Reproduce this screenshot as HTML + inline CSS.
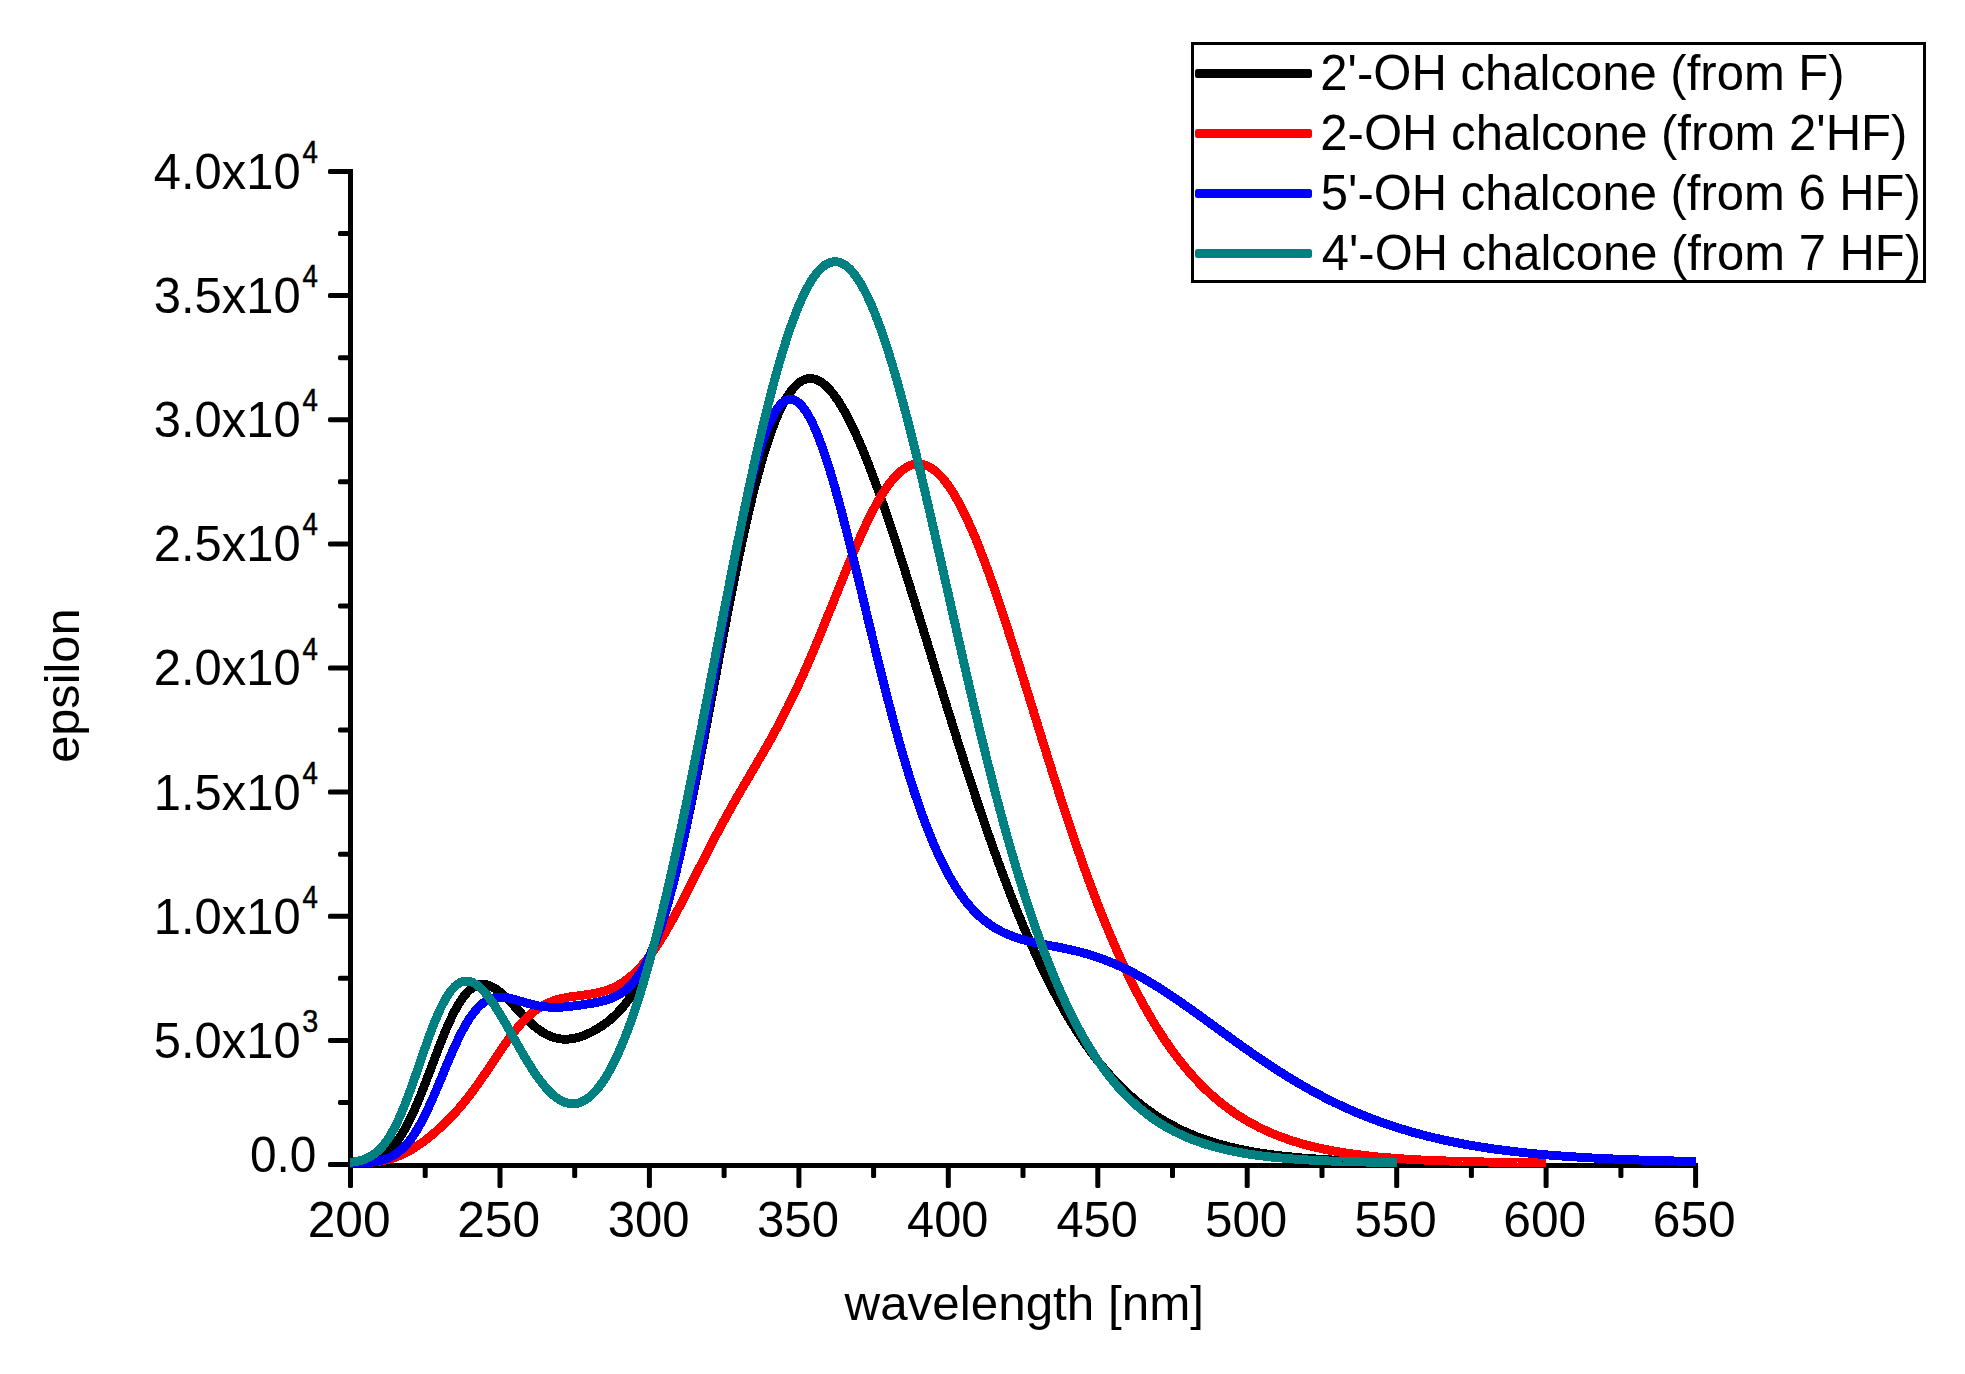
<!DOCTYPE html>
<html lang="en"><head><meta charset="utf-8"><title>UV-Vis spectra of chalcones</title>
<style>html,body{margin:0;padding:0;background:#fff}body{width:1965px;height:1374px;overflow:hidden}svg{display:block}text{font-family:"Liberation Sans",Arial,Helvetica,sans-serif;fill:#000}</style></head><body>
<svg width="1965" height="1374" viewBox="0 0 1965 1374">
<rect width="1965" height="1374" fill="#fff"/>
<g fill="#000" shape-rendering="crispEdges">
<rect x="348" y="169" width="5" height="1017"/>
<rect x="348" y="1163" width="1350" height="5"/>
</g>
<g fill="#000">
<rect x="348.0" y="1165" width="5" height="23" rx="1.6"/>
<rect x="422.7" y="1165" width="5" height="13" rx="1.6"/>
<rect x="497.5" y="1165" width="5" height="23" rx="1.6"/>
<rect x="572.2" y="1165" width="5" height="13" rx="1.6"/>
<rect x="646.9" y="1165" width="5" height="23" rx="1.6"/>
<rect x="721.6" y="1165" width="5" height="13" rx="1.6"/>
<rect x="796.4" y="1165" width="5" height="23" rx="1.6"/>
<rect x="871.1" y="1165" width="5" height="13" rx="1.6"/>
<rect x="945.8" y="1165" width="5" height="23" rx="1.6"/>
<rect x="1020.5" y="1165" width="5" height="13" rx="1.6"/>
<rect x="1095.3" y="1165" width="5" height="23" rx="1.6"/>
<rect x="1170.0" y="1165" width="5" height="13" rx="1.6"/>
<rect x="1244.7" y="1165" width="5" height="23" rx="1.6"/>
<rect x="1319.5" y="1165" width="5" height="13" rx="1.6"/>
<rect x="1394.2" y="1165" width="5" height="23" rx="1.6"/>
<rect x="1468.9" y="1165" width="5" height="13" rx="1.6"/>
<rect x="1543.6" y="1165" width="5" height="23" rx="1.6"/>
<rect x="1618.4" y="1165" width="5" height="13" rx="1.6"/>
<rect x="1693.1" y="1165" width="5" height="23" rx="1.6"/>
<rect x="328" y="1162.0" width="23" height="5" rx="1.6"/>
<rect x="338" y="1099.9" width="13" height="5" rx="1.6"/>
<rect x="328" y="1037.9" width="23" height="5" rx="1.6"/>
<rect x="338" y="975.8" width="13" height="5" rx="1.6"/>
<rect x="328" y="913.8" width="23" height="5" rx="1.6"/>
<rect x="338" y="851.7" width="13" height="5" rx="1.6"/>
<rect x="328" y="789.6" width="23" height="5" rx="1.6"/>
<rect x="338" y="727.6" width="13" height="5" rx="1.6"/>
<rect x="328" y="665.5" width="23" height="5" rx="1.6"/>
<rect x="338" y="603.4" width="13" height="5" rx="1.6"/>
<rect x="328" y="541.4" width="23" height="5" rx="1.6"/>
<rect x="338" y="479.3" width="13" height="5" rx="1.6"/>
<rect x="328" y="417.2" width="23" height="5" rx="1.6"/>
<rect x="338" y="355.2" width="13" height="5" rx="1.6"/>
<rect x="328" y="293.1" width="23" height="5" rx="1.6"/>
<rect x="338" y="231.1" width="13" height="5" rx="1.6"/>
<rect x="328" y="169.0" width="23" height="5" rx="1.6"/>
</g>
<g fill="none" stroke-width="8.9" stroke-linejoin="round" stroke-linecap="butt" shape-rendering="crispEdges">
<path stroke="#000000" d="M350.0 1162.9 L352.5 1162.8 L355.0 1162.6 L357.5 1162.4 L360.0 1162.2 L362.5 1161.9 L365.0 1161.5 L367.5 1161.0 L370.0 1160.4 L372.5 1159.7 L375.0 1158.8 L377.5 1157.8 L380.0 1156.5 L382.5 1155.1 L385.0 1153.4 L387.5 1151.4 L390.0 1149.2 L392.5 1146.6 L395.0 1143.7 L397.5 1140.5 L400.0 1137.0 L402.5 1133.1 L405.0 1128.9 L407.5 1124.3 L410.0 1119.4 L412.5 1114.2 L415.0 1108.6 L417.5 1102.8 L420.0 1096.8 L422.5 1090.5 L425.0 1084.1 L427.5 1077.5 L430.0 1070.9 L432.5 1064.2 L435.0 1057.6 L437.5 1051.0 L440.0 1044.5 L442.5 1038.2 L445.0 1032.1 L447.5 1026.2 L450.0 1020.7 L452.5 1015.4 L455.0 1010.5 L457.5 1006.0 L460.0 1001.9 L462.5 998.2 L465.0 994.9 L467.5 992.1 L470.0 989.7 L472.5 987.8 L475.0 986.3 L477.5 985.2 L480.0 984.6 L482.5 984.4 L485.0 984.5 L487.5 985.0 L490.0 985.9 L492.5 987.0 L495.0 988.5 L497.5 990.2 L500.0 992.1 L502.5 994.3 L505.0 996.5 L507.5 999.0 L510.0 1001.5 L512.5 1004.1 L515.0 1006.8 L517.5 1009.5 L520.0 1012.1 L522.5 1014.8 L525.0 1017.4 L527.5 1019.8 L530.0 1022.2 L532.5 1024.5 L535.0 1026.7 L537.5 1028.7 L540.0 1030.5 L542.5 1032.2 L545.0 1033.7 L547.5 1035.0 L550.0 1036.1 L552.5 1037.1 L555.0 1037.8 L557.5 1038.4 L560.0 1038.9 L562.5 1039.1 L565.0 1039.2 L567.5 1039.2 L570.0 1038.9 L572.5 1038.6 L575.0 1038.1 L577.5 1037.5 L580.0 1036.8 L582.5 1035.9 L585.0 1035.0 L587.5 1033.9 L590.0 1032.8 L592.5 1031.5 L595.0 1030.2 L597.5 1028.7 L600.0 1027.2 L602.5 1025.5 L605.0 1023.8 L607.5 1021.9 L610.0 1019.9 L612.5 1017.7 L615.0 1015.4 L617.5 1012.9 L620.0 1010.2 L622.5 1007.4 L625.0 1004.3 L627.5 1001.0 L630.0 997.5 L632.5 993.7 L635.0 989.6 L637.5 985.2 L640.0 980.5 L642.5 975.5 L645.0 970.1 L647.5 964.4 L650.0 958.4 L652.5 951.9 L655.0 945.1 L657.5 937.9 L660.0 930.3 L662.5 922.3 L665.0 913.9 L667.5 905.1 L670.0 895.9 L672.5 886.3 L675.0 876.4 L677.5 866.1 L680.0 855.4 L682.5 844.4 L685.0 833.0 L687.5 821.4 L690.0 809.5 L692.5 797.3 L695.0 784.8 L697.5 772.2 L700.0 759.4 L702.5 746.3 L705.0 733.2 L707.5 720.0 L710.0 706.6 L712.5 693.3 L715.0 679.9 L717.5 666.5 L720.0 653.1 L722.5 639.9 L725.0 626.7 L727.5 613.7 L730.0 600.8 L732.5 588.1 L735.0 575.6 L737.5 563.4 L740.0 551.4 L742.5 539.7 L745.0 528.3 L747.5 517.2 L750.0 506.5 L752.5 496.2 L755.0 486.2 L757.5 476.6 L760.0 467.5 L762.5 458.7 L765.0 450.4 L767.5 442.6 L770.0 435.1 L772.5 428.2 L775.0 421.7 L777.5 415.6 L780.0 410.0 L782.5 404.9 L785.0 400.3 L787.5 396.1 L790.0 392.4 L792.5 389.1 L795.0 386.3 L797.5 383.9 L800.0 382.0 L802.5 380.5 L805.0 379.4 L807.5 378.7 L810.0 378.5 L812.5 378.7 L815.0 379.2 L817.5 380.1 L820.0 381.4 L822.5 383.1 L825.0 385.1 L827.5 387.4 L830.0 390.1 L832.5 393.0 L835.0 396.3 L837.5 399.9 L840.0 403.7 L842.5 407.9 L845.0 412.3 L847.5 416.9 L850.0 421.8 L852.5 426.9 L855.0 432.2 L857.5 437.7 L860.0 443.5 L862.5 449.4 L865.0 455.5 L867.5 461.8 L870.0 468.2 L872.5 474.8 L875.0 481.5 L877.5 488.4 L880.0 495.4 L882.5 502.5 L885.0 509.8 L887.5 517.1 L890.0 524.5 L892.5 532.1 L895.0 539.7 L897.5 547.4 L900.0 555.1 L902.5 563.0 L905.0 570.9 L907.5 578.8 L910.0 586.8 L912.5 594.8 L915.0 602.9 L917.5 611.0 L920.0 619.1 L922.5 627.2 L925.0 635.4 L927.5 643.5 L930.0 651.7 L932.5 659.9 L935.0 668.1 L937.5 676.2 L940.0 684.4 L942.5 692.5 L945.0 700.6 L947.5 708.7 L950.0 716.7 L952.5 724.8 L955.0 732.7 L957.5 740.7 L960.0 748.6 L962.5 756.4 L965.0 764.2 L967.5 772.0 L970.0 779.7 L972.5 787.3 L975.0 794.9 L977.5 802.4 L980.0 809.9 L982.5 817.2 L985.0 824.5 L987.5 831.8 L990.0 838.9 L992.5 846.0 L995.0 853.0 L997.5 859.9 L1000.0 866.7 L1002.5 873.5 L1005.0 880.1 L1007.5 886.7 L1010.0 893.2 L1012.5 899.6 L1015.0 905.9 L1017.5 912.1 L1020.0 918.2 L1022.5 924.2 L1025.0 930.1 L1027.5 935.9 L1030.0 941.7 L1032.5 947.3 L1035.0 952.8 L1037.5 958.3 L1040.0 963.6 L1042.5 968.8 L1045.0 974.0 L1047.5 979.0 L1050.0 984.0 L1052.5 988.8 L1055.0 993.6 L1057.5 998.3 L1060.0 1002.8 L1062.5 1007.3 L1065.0 1011.7 L1067.5 1016.0 L1070.0 1020.1 L1072.5 1024.2 L1075.0 1028.2 L1077.5 1032.2 L1080.0 1036.0 L1082.5 1039.7 L1085.0 1043.4 L1087.5 1046.9 L1090.0 1050.4 L1092.5 1053.8 L1095.0 1057.1 L1097.5 1060.4 L1100.0 1063.5 L1102.5 1066.6 L1105.0 1069.6 L1107.5 1072.5 L1110.0 1075.3 L1112.5 1078.1 L1115.0 1080.8 L1117.5 1083.4 L1120.0 1085.9 L1122.5 1088.4 L1125.0 1090.8 L1127.5 1093.2 L1130.0 1095.4 L1132.5 1097.7 L1135.0 1099.8 L1137.5 1101.9 L1140.0 1103.9 L1142.5 1105.9 L1145.0 1107.8 L1147.5 1109.7 L1150.0 1111.5 L1152.5 1113.2 L1155.0 1114.9 L1157.5 1116.6 L1160.0 1118.2 L1162.5 1119.7 L1165.0 1121.2 L1167.5 1122.7 L1170.0 1124.1 L1172.5 1125.4 L1175.0 1126.7 L1177.5 1128.0 L1180.0 1129.3 L1182.5 1130.5 L1185.0 1131.6 L1187.5 1132.7 L1190.0 1133.8 L1192.5 1134.9 L1195.0 1135.9 L1197.5 1136.9 L1200.0 1137.8 L1202.5 1138.7 L1205.0 1139.6 L1207.5 1140.5 L1210.0 1141.3 L1212.5 1142.1 L1215.0 1142.9 L1217.5 1143.6 L1220.0 1144.3 L1222.5 1145.0 L1225.0 1145.7 L1227.5 1146.4 L1230.0 1147.0 L1232.5 1147.6 L1235.0 1148.2 L1237.5 1148.7 L1240.0 1149.3 L1242.5 1149.8 L1245.0 1150.3 L1247.5 1150.8 L1250.0 1151.3 L1252.5 1151.7 L1255.0 1152.1 L1257.5 1152.6 L1260.0 1153.0 L1262.5 1153.4 L1265.0 1153.7 L1267.5 1154.1 L1270.0 1154.5 L1272.5 1154.8 L1275.0 1155.1 L1277.5 1155.4 L1280.0 1155.7 L1282.5 1156.0 L1285.0 1156.3 L1287.5 1156.6 L1290.0 1156.8 L1292.5 1157.1 L1295.0 1157.3 L1297.5 1157.5 L1300.0 1157.8 L1302.5 1158.0 L1305.0 1158.2 L1307.5 1158.4 L1310.0 1158.6 L1312.5 1158.7 L1315.0 1158.9 L1317.5 1159.1 L1320.0 1159.3 L1322.5 1159.4 L1325.0 1159.6 L1327.5 1159.7 L1330.0 1159.8 L1332.5 1160.0 L1335.0 1160.1 L1337.5 1160.2 L1340.0 1160.3 L1342.5 1160.5 L1345.0 1160.6 L1347.5 1160.7 L1350.0 1160.8 L1352.5 1160.9 L1355.0 1161.0 L1357.5 1161.1 L1360.0 1161.1 L1362.5 1161.2 L1365.0 1161.3 L1367.5 1161.4 L1370.0 1161.5 L1372.5 1161.5 L1375.0 1161.6 L1377.5 1161.7 L1380.0 1161.7 L1382.5 1161.8 L1385.0 1161.8 L1387.5 1161.9 L1390.0 1161.9 L1392.5 1162.0 L1395.0 1162.0 L1396.5 1162.1"/>
<path stroke="#ff0000" d="M350.0 1163.1 L352.5 1163.1 L355.0 1163.0 L357.5 1162.9 L360.0 1162.9 L362.5 1162.8 L365.0 1162.6 L367.5 1162.5 L370.0 1162.3 L372.5 1162.1 L375.0 1161.8 L377.5 1161.5 L380.0 1161.1 L382.5 1160.7 L385.0 1160.2 L387.5 1159.6 L390.0 1158.9 L392.5 1158.2 L395.0 1157.4 L397.5 1156.4 L400.0 1155.4 L402.5 1154.3 L405.0 1153.2 L407.5 1151.9 L410.0 1150.5 L412.5 1149.0 L415.0 1147.5 L417.5 1145.8 L420.0 1144.1 L422.5 1142.3 L425.0 1140.5 L427.5 1138.5 L430.0 1136.5 L432.5 1134.5 L435.0 1132.3 L437.5 1130.1 L440.0 1127.9 L442.5 1125.6 L445.0 1123.2 L447.5 1120.7 L450.0 1118.2 L452.5 1115.6 L455.0 1112.9 L457.5 1110.1 L460.0 1107.2 L462.5 1104.3 L465.0 1101.2 L467.5 1098.1 L470.0 1094.9 L472.5 1091.5 L475.0 1088.1 L477.5 1084.6 L480.0 1081.1 L482.5 1077.5 L485.0 1073.8 L487.5 1070.1 L490.0 1066.3 L492.5 1062.6 L495.0 1058.8 L497.5 1055.1 L500.0 1051.4 L502.5 1047.7 L505.0 1044.2 L507.5 1040.7 L510.0 1037.2 L512.5 1033.9 L515.0 1030.8 L517.5 1027.7 L520.0 1024.8 L522.5 1022.1 L525.0 1019.5 L527.5 1017.0 L530.0 1014.8 L532.5 1012.7 L535.0 1010.7 L537.5 1008.9 L540.0 1007.3 L542.5 1005.8 L545.0 1004.4 L547.5 1003.2 L550.0 1002.1 L552.5 1001.2 L555.0 1000.3 L557.5 999.5 L560.0 998.9 L562.5 998.3 L565.0 997.8 L567.5 997.3 L570.0 996.9 L572.5 996.5 L575.0 996.2 L577.5 995.9 L580.0 995.6 L582.5 995.2 L585.0 994.9 L587.5 994.6 L590.0 994.2 L592.5 993.8 L595.0 993.3 L597.5 992.8 L600.0 992.2 L602.5 991.6 L605.0 990.8 L607.5 990.0 L610.0 989.0 L612.5 988.0 L615.0 986.8 L617.5 985.6 L620.0 984.1 L622.5 982.6 L625.0 980.9 L627.5 979.1 L630.0 977.1 L632.5 974.9 L635.0 972.6 L637.5 970.2 L640.0 967.5 L642.5 964.8 L645.0 961.8 L647.5 958.7 L650.0 955.4 L652.5 952.0 L655.0 948.4 L657.5 944.7 L660.0 940.8 L662.5 936.8 L665.0 932.7 L667.5 928.4 L670.0 924.0 L672.5 919.6 L675.0 915.0 L677.5 910.4 L680.0 905.7 L682.5 900.9 L685.0 896.0 L687.5 891.2 L690.0 886.3 L692.5 881.3 L695.0 876.4 L697.5 871.4 L700.0 866.5 L702.5 861.6 L705.0 856.6 L707.5 851.8 L710.0 846.9 L712.5 842.1 L715.0 837.3 L717.5 832.6 L720.0 827.9 L722.5 823.3 L725.0 818.7 L727.5 814.2 L730.0 809.7 L732.5 805.2 L735.0 800.8 L737.5 796.4 L740.0 792.1 L742.5 787.8 L745.0 783.5 L747.5 779.3 L750.0 775.0 L752.5 770.8 L755.0 766.5 L757.5 762.2 L760.0 757.9 L762.5 753.6 L765.0 749.3 L767.5 744.9 L770.0 740.5 L772.5 736.0 L775.0 731.4 L777.5 726.8 L780.0 722.1 L782.5 717.3 L785.0 712.4 L787.5 707.5 L790.0 702.4 L792.5 697.3 L795.0 692.1 L797.5 686.8 L800.0 681.4 L802.5 675.9 L805.0 670.3 L807.5 664.6 L810.0 658.8 L812.5 653.0 L815.0 647.0 L817.5 641.0 L820.0 635.0 L822.5 628.9 L825.0 622.7 L827.5 616.5 L830.0 610.3 L832.5 604.1 L835.0 597.8 L837.5 591.6 L840.0 585.3 L842.5 579.1 L845.0 573.0 L847.5 566.9 L850.0 560.8 L852.5 554.8 L855.0 548.9 L857.5 543.2 L860.0 537.5 L862.5 532.0 L865.0 526.6 L867.5 521.3 L870.0 516.2 L872.5 511.3 L875.0 506.6 L877.5 502.1 L880.0 497.8 L882.5 493.7 L885.0 489.8 L887.5 486.2 L890.0 482.8 L892.5 479.7 L895.0 476.9 L897.5 474.3 L900.0 472.0 L902.5 470.0 L905.0 468.2 L907.5 466.8 L910.0 465.6 L912.5 464.8 L915.0 464.2 L917.5 464.0 L920.0 464.0 L922.5 464.4 L925.0 465.1 L927.5 466.0 L930.0 467.3 L932.5 468.9 L935.0 470.7 L937.5 472.9 L940.0 475.4 L942.5 478.1 L945.0 481.1 L947.5 484.4 L950.0 488.0 L952.5 491.8 L955.0 495.9 L957.5 500.3 L960.0 504.9 L962.5 509.7 L965.0 514.8 L967.5 520.1 L970.0 525.6 L972.5 531.3 L975.0 537.2 L977.5 543.4 L980.0 549.6 L982.5 556.1 L985.0 562.7 L987.5 569.5 L990.0 576.5 L992.5 583.5 L995.0 590.7 L997.5 598.0 L1000.0 605.5 L1002.5 613.0 L1005.0 620.6 L1007.5 628.3 L1010.0 636.1 L1012.5 644.0 L1015.0 651.9 L1017.5 659.8 L1020.0 667.8 L1022.5 675.9 L1025.0 684.0 L1027.5 692.0 L1030.0 700.2 L1032.5 708.3 L1035.0 716.4 L1037.5 724.5 L1040.0 732.6 L1042.5 740.6 L1045.0 748.7 L1047.5 756.7 L1050.0 764.7 L1052.5 772.6 L1055.0 780.5 L1057.5 788.3 L1060.0 796.1 L1062.5 803.8 L1065.0 811.4 L1067.5 819.0 L1070.0 826.5 L1072.5 834.0 L1075.0 841.3 L1077.5 848.6 L1080.0 855.8 L1082.5 862.9 L1085.0 869.9 L1087.5 876.8 L1090.0 883.6 L1092.5 890.3 L1095.0 896.9 L1097.5 903.5 L1100.0 909.9 L1102.5 916.2 L1105.0 922.4 L1107.5 928.5 L1110.0 934.5 L1112.5 940.4 L1115.0 946.2 L1117.5 951.9 L1120.0 957.5 L1122.5 963.0 L1125.0 968.3 L1127.5 973.6 L1130.0 978.8 L1132.5 983.8 L1135.0 988.8 L1137.5 993.6 L1140.0 998.4 L1142.5 1003.0 L1145.0 1007.5 L1147.5 1012.0 L1150.0 1016.3 L1152.5 1020.5 L1155.0 1024.7 L1157.5 1028.7 L1160.0 1032.7 L1162.5 1036.5 L1165.0 1040.3 L1167.5 1043.9 L1170.0 1047.5 L1172.5 1051.0 L1175.0 1054.4 L1177.5 1057.7 L1180.0 1060.9 L1182.5 1064.0 L1185.0 1067.1 L1187.5 1070.1 L1190.0 1073.0 L1192.5 1075.8 L1195.0 1078.5 L1197.5 1081.2 L1200.0 1083.8 L1202.5 1086.3 L1205.0 1088.8 L1207.5 1091.2 L1210.0 1093.5 L1212.5 1095.7 L1215.0 1097.9 L1217.5 1100.0 L1220.0 1102.1 L1222.5 1104.1 L1225.0 1106.0 L1227.5 1107.9 L1230.0 1109.8 L1232.5 1111.5 L1235.0 1113.2 L1237.5 1114.9 L1240.0 1116.5 L1242.5 1118.1 L1245.0 1119.6 L1247.5 1121.1 L1250.0 1122.5 L1252.5 1123.9 L1255.0 1125.2 L1257.5 1126.5 L1260.0 1127.8 L1262.5 1129.0 L1265.0 1130.2 L1267.5 1131.3 L1270.0 1132.4 L1272.5 1133.5 L1275.0 1134.5 L1277.5 1135.5 L1280.0 1136.5 L1282.5 1137.4 L1285.0 1138.3 L1287.5 1139.2 L1290.0 1140.1 L1292.5 1140.9 L1295.0 1141.7 L1297.5 1142.4 L1300.0 1143.2 L1302.5 1143.9 L1305.0 1144.6 L1307.5 1145.2 L1310.0 1145.9 L1312.5 1146.5 L1315.0 1147.1 L1317.5 1147.7 L1320.0 1148.2 L1322.5 1148.8 L1325.0 1149.3 L1327.5 1149.8 L1330.0 1150.3 L1332.5 1150.7 L1335.0 1151.2 L1337.5 1151.6 L1340.0 1152.1 L1342.5 1152.5 L1345.0 1152.9 L1347.5 1153.2 L1350.0 1153.6 L1352.5 1154.0 L1355.0 1154.3 L1357.5 1154.6 L1360.0 1154.9 L1362.5 1155.2 L1365.0 1155.5 L1367.5 1155.8 L1370.0 1156.1 L1372.5 1156.4 L1375.0 1156.6 L1377.5 1156.9 L1380.0 1157.1 L1382.5 1157.3 L1385.0 1157.5 L1387.5 1157.7 L1390.0 1157.9 L1392.5 1158.1 L1395.0 1158.3 L1397.5 1158.5 L1400.0 1158.7 L1402.5 1158.9 L1405.0 1159.0 L1407.5 1159.2 L1410.0 1159.3 L1412.5 1159.5 L1415.0 1159.6 L1417.5 1159.7 L1420.0 1159.9 L1422.5 1160.0 L1425.0 1160.1 L1427.5 1160.2 L1430.0 1160.4 L1432.5 1160.5 L1435.0 1160.6 L1437.5 1160.7 L1440.0 1160.8 L1442.5 1160.9 L1445.0 1160.9 L1447.5 1161.0 L1450.0 1161.1 L1452.5 1161.2 L1455.0 1161.3 L1457.5 1161.3 L1460.0 1161.4 L1462.5 1161.5 L1465.0 1161.5 L1467.5 1161.6 L1470.0 1161.7 L1472.5 1161.7 L1475.0 1161.8 L1477.5 1161.8 L1480.0 1161.9 L1482.5 1161.9 L1485.0 1162.0 L1487.5 1162.0 L1490.0 1162.1 L1492.5 1162.1 L1495.0 1162.2 L1497.5 1162.2 L1500.0 1162.2 L1502.5 1162.3 L1505.0 1162.3 L1507.5 1162.3 L1510.0 1162.4 L1512.5 1162.4 L1515.0 1162.4 L1517.5 1162.5 L1520.0 1162.5 L1522.5 1162.5 L1525.0 1162.5 L1527.5 1162.6 L1530.0 1162.6 L1532.5 1162.6 L1535.0 1162.6 L1537.5 1162.7 L1540.0 1162.7 L1542.5 1162.7 L1545.0 1162.7 L1545.8 1162.7"/>
<path stroke="#0000ff" d="M350.0 1163.1 L352.5 1163.1 L355.0 1163.0 L357.5 1163.0 L360.0 1162.9 L362.5 1162.8 L365.0 1162.7 L367.5 1162.5 L370.0 1162.3 L372.5 1162.0 L375.0 1161.7 L377.5 1161.2 L380.0 1160.7 L382.5 1160.1 L385.0 1159.3 L387.5 1158.4 L390.0 1157.3 L392.5 1156.0 L395.0 1154.5 L397.5 1152.8 L400.0 1150.8 L402.5 1148.6 L405.0 1146.1 L407.5 1143.3 L410.0 1140.2 L412.5 1136.7 L415.0 1133.0 L417.5 1128.9 L420.0 1124.6 L422.5 1119.9 L425.0 1115.0 L427.5 1109.8 L430.0 1104.4 L432.5 1098.8 L435.0 1093.1 L437.5 1087.2 L440.0 1081.2 L442.5 1075.2 L445.0 1069.1 L447.5 1063.1 L450.0 1057.3 L452.5 1051.5 L455.0 1045.9 L457.5 1040.5 L460.0 1035.4 L462.5 1030.5 L465.0 1025.9 L467.5 1021.7 L470.0 1017.7 L472.5 1014.2 L475.0 1011.0 L477.5 1008.1 L480.0 1005.6 L482.5 1003.5 L485.0 1001.7 L487.5 1000.2 L490.0 999.0 L492.5 998.2 L495.0 997.6 L497.5 997.2 L500.0 997.1 L502.5 997.2 L505.0 997.4 L507.5 997.8 L510.0 998.3 L512.5 998.9 L515.0 999.6 L517.5 1000.3 L520.0 1001.0 L522.5 1001.8 L525.0 1002.5 L527.5 1003.2 L530.0 1003.9 L532.5 1004.6 L535.0 1005.2 L537.5 1005.7 L540.0 1006.1 L542.5 1006.5 L545.0 1006.8 L547.5 1007.0 L550.0 1007.2 L552.5 1007.3 L555.0 1007.3 L557.5 1007.3 L560.0 1007.2 L562.5 1007.1 L565.0 1006.9 L567.5 1006.7 L570.0 1006.4 L572.5 1006.1 L575.0 1005.8 L577.5 1005.5 L580.0 1005.1 L582.5 1004.8 L585.0 1004.4 L587.5 1004.0 L590.0 1003.6 L592.5 1003.2 L595.0 1002.7 L597.5 1002.2 L600.0 1001.7 L602.5 1001.1 L605.0 1000.4 L607.5 999.6 L610.0 998.8 L612.5 997.8 L615.0 996.7 L617.5 995.4 L620.0 994.0 L622.5 992.3 L625.0 990.5 L627.5 988.4 L630.0 986.0 L632.5 983.3 L635.0 980.3 L637.5 977.0 L640.0 973.4 L642.5 969.3 L645.0 964.9 L647.5 960.1 L650.0 954.8 L652.5 949.1 L655.0 942.9 L657.5 936.2 L660.0 929.1 L662.5 921.5 L665.0 913.4 L667.5 904.9 L670.0 895.8 L672.5 886.3 L675.0 876.3 L677.5 865.8 L680.0 854.9 L682.5 843.5 L685.0 831.8 L687.5 819.6 L690.0 807.1 L692.5 794.2 L695.0 781.1 L697.5 767.6 L700.0 753.9 L702.5 740.0 L705.0 725.9 L707.5 711.6 L710.0 697.3 L712.5 682.9 L715.0 668.4 L717.5 654.0 L720.0 639.6 L722.5 625.3 L725.0 611.2 L727.5 597.3 L730.0 583.5 L732.5 570.0 L735.0 556.9 L737.5 544.0 L740.0 531.6 L742.5 519.5 L745.0 507.9 L747.5 496.7 L750.0 486.1 L752.5 476.0 L755.0 466.4 L757.5 457.4 L760.0 449.0 L762.5 441.2 L765.0 434.1 L767.5 427.6 L770.0 421.8 L772.5 416.6 L775.0 412.1 L777.5 408.3 L780.0 405.1 L782.5 402.7 L785.0 400.9 L787.5 399.8 L790.0 399.3 L792.5 399.5 L795.0 400.4 L797.5 401.9 L800.0 404.0 L802.5 406.7 L805.0 410.1 L807.5 413.9 L810.0 418.4 L812.5 423.3 L815.0 428.8 L817.5 434.7 L820.0 441.2 L822.5 448.0 L825.0 455.3 L827.5 462.9 L830.0 470.9 L832.5 479.3 L835.0 487.9 L837.5 496.8 L840.0 506.0 L842.5 515.5 L845.0 525.1 L847.5 534.9 L850.0 544.9 L852.5 555.0 L855.0 565.2 L857.5 575.5 L860.0 585.8 L862.5 596.2 L865.0 606.7 L867.5 617.1 L870.0 627.5 L872.5 637.8 L875.0 648.1 L877.5 658.3 L880.0 668.5 L882.5 678.5 L885.0 688.4 L887.5 698.2 L890.0 707.8 L892.5 717.3 L895.0 726.6 L897.5 735.7 L900.0 744.7 L902.5 753.4 L905.0 761.9 L907.5 770.3 L910.0 778.4 L912.5 786.3 L915.0 794.0 L917.5 801.4 L920.0 808.6 L922.5 815.6 L925.0 822.4 L927.5 828.9 L930.0 835.2 L932.5 841.3 L935.0 847.1 L937.5 852.7 L940.0 858.1 L942.5 863.3 L945.0 868.2 L947.5 872.9 L950.0 877.5 L952.5 881.8 L955.0 885.8 L957.5 889.7 L960.0 893.4 L962.5 896.9 L965.0 900.3 L967.5 903.4 L970.0 906.4 L972.5 909.2 L975.0 911.8 L977.5 914.3 L980.0 916.7 L982.5 918.9 L985.0 920.9 L987.5 922.8 L990.0 924.6 L992.5 926.3 L995.0 927.9 L997.5 929.4 L1000.0 930.7 L1002.5 932.0 L1005.0 933.2 L1007.5 934.3 L1010.0 935.3 L1012.5 936.3 L1015.0 937.2 L1017.5 938.0 L1020.0 938.8 L1022.5 939.5 L1025.0 940.2 L1027.5 940.9 L1030.0 941.5 L1032.5 942.0 L1035.0 942.6 L1037.5 943.1 L1040.0 943.6 L1042.5 944.1 L1045.0 944.6 L1047.5 945.1 L1050.0 945.6 L1052.5 946.1 L1055.0 946.5 L1057.5 947.0 L1060.0 947.5 L1062.5 948.0 L1065.0 948.5 L1067.5 949.1 L1070.0 949.6 L1072.5 950.2 L1075.0 950.8 L1077.5 951.4 L1080.0 952.0 L1082.5 952.7 L1085.0 953.4 L1087.5 954.1 L1090.0 954.8 L1092.5 955.6 L1095.0 956.4 L1097.5 957.3 L1100.0 958.1 L1102.5 959.0 L1105.0 960.0 L1107.5 960.9 L1110.0 961.9 L1112.5 963.0 L1115.0 964.0 L1117.5 965.1 L1120.0 966.3 L1122.5 967.4 L1125.0 968.6 L1127.5 969.9 L1130.0 971.1 L1132.5 972.4 L1135.0 973.7 L1137.5 975.1 L1140.0 976.5 L1142.5 977.9 L1145.0 979.3 L1147.5 980.8 L1150.0 982.2 L1152.5 983.8 L1155.0 985.3 L1157.5 986.8 L1160.0 988.4 L1162.5 990.0 L1165.0 991.6 L1167.5 993.3 L1170.0 994.9 L1172.5 996.6 L1175.0 998.3 L1177.5 1000.0 L1180.0 1001.7 L1182.5 1003.5 L1185.0 1005.2 L1187.5 1007.0 L1190.0 1008.7 L1192.5 1010.5 L1195.0 1012.3 L1197.5 1014.1 L1200.0 1015.9 L1202.5 1017.7 L1205.0 1019.5 L1207.5 1021.3 L1210.0 1023.1 L1212.5 1024.9 L1215.0 1026.8 L1217.5 1028.6 L1220.0 1030.4 L1222.5 1032.2 L1225.0 1034.0 L1227.5 1035.8 L1230.0 1037.6 L1232.5 1039.4 L1235.0 1041.2 L1237.5 1043.0 L1240.0 1044.8 L1242.5 1046.6 L1245.0 1048.3 L1247.5 1050.1 L1250.0 1051.8 L1252.5 1053.6 L1255.0 1055.3 L1257.5 1057.0 L1260.0 1058.7 L1262.5 1060.4 L1265.0 1062.1 L1267.5 1063.7 L1270.0 1065.4 L1272.5 1067.0 L1275.0 1068.7 L1277.5 1070.3 L1280.0 1071.9 L1282.5 1073.4 L1285.0 1075.0 L1287.5 1076.6 L1290.0 1078.1 L1292.5 1079.6 L1295.0 1081.1 L1297.5 1082.6 L1300.0 1084.1 L1302.5 1085.5 L1305.0 1086.9 L1307.5 1088.4 L1310.0 1089.8 L1312.5 1091.1 L1315.0 1092.5 L1317.5 1093.8 L1320.0 1095.2 L1322.5 1096.5 L1325.0 1097.8 L1327.5 1099.1 L1330.0 1100.3 L1332.5 1101.5 L1335.0 1102.8 L1337.5 1104.0 L1340.0 1105.2 L1342.5 1106.3 L1345.0 1107.5 L1347.5 1108.6 L1350.0 1109.7 L1352.5 1110.8 L1355.0 1111.9 L1357.5 1113.0 L1360.0 1114.0 L1362.5 1115.0 L1365.0 1116.0 L1367.5 1117.0 L1370.0 1118.0 L1372.5 1119.0 L1375.0 1119.9 L1377.5 1120.8 L1380.0 1121.7 L1382.5 1122.6 L1385.0 1123.5 L1387.5 1124.4 L1390.0 1125.2 L1392.5 1126.1 L1395.0 1126.9 L1397.5 1127.7 L1400.0 1128.5 L1402.5 1129.2 L1405.0 1130.0 L1407.5 1130.7 L1410.0 1131.5 L1412.5 1132.2 L1415.0 1132.9 L1417.5 1133.6 L1420.0 1134.2 L1422.5 1134.9 L1425.0 1135.5 L1427.5 1136.2 L1430.0 1136.8 L1432.5 1137.4 L1435.0 1138.0 L1437.5 1138.6 L1440.0 1139.2 L1442.5 1139.7 L1445.0 1140.3 L1447.5 1140.8 L1450.0 1141.3 L1452.5 1141.8 L1455.0 1142.4 L1457.5 1142.8 L1460.0 1143.3 L1462.5 1143.8 L1465.0 1144.3 L1467.5 1144.7 L1470.0 1145.2 L1472.5 1145.6 L1475.0 1146.0 L1477.5 1146.4 L1480.0 1146.8 L1482.5 1147.2 L1485.0 1147.6 L1487.5 1148.0 L1490.0 1148.4 L1492.5 1148.7 L1495.0 1149.1 L1497.5 1149.4 L1500.0 1149.8 L1502.5 1150.1 L1505.0 1150.4 L1507.5 1150.7 L1510.0 1151.0 L1512.5 1151.3 L1515.0 1151.6 L1517.5 1151.9 L1520.0 1152.2 L1522.5 1152.5 L1525.0 1152.7 L1527.5 1153.0 L1530.0 1153.2 L1532.5 1153.5 L1535.0 1153.7 L1537.5 1154.0 L1540.0 1154.2 L1542.5 1154.4 L1545.0 1154.7 L1547.5 1154.9 L1550.0 1155.1 L1552.5 1155.3 L1555.0 1155.5 L1557.5 1155.7 L1560.0 1155.9 L1562.5 1156.1 L1565.0 1156.2 L1567.5 1156.4 L1570.0 1156.6 L1572.5 1156.8 L1575.0 1156.9 L1577.5 1157.1 L1580.0 1157.2 L1582.5 1157.4 L1585.0 1157.5 L1587.5 1157.7 L1590.0 1157.8 L1592.5 1158.0 L1595.0 1158.1 L1597.5 1158.2 L1600.0 1158.4 L1602.5 1158.5 L1605.0 1158.6 L1607.5 1158.7 L1610.0 1158.8 L1612.5 1158.9 L1615.0 1159.1 L1617.5 1159.2 L1620.0 1159.3 L1622.5 1159.4 L1625.0 1159.5 L1627.5 1159.6 L1630.0 1159.7 L1632.5 1159.8 L1635.0 1159.8 L1637.5 1159.9 L1640.0 1160.0 L1642.5 1160.1 L1645.0 1160.2 L1647.5 1160.3 L1650.0 1160.3 L1652.5 1160.4 L1655.0 1160.5 L1657.5 1160.6 L1660.0 1160.6 L1662.5 1160.7 L1665.0 1160.8 L1667.5 1160.8 L1670.0 1160.9 L1672.5 1160.9 L1675.0 1161.0 L1677.5 1161.1 L1680.0 1161.1 L1682.5 1161.2 L1685.0 1161.2 L1687.5 1161.3 L1690.0 1161.3 L1692.5 1161.4 L1695.0 1161.4 L1696.2 1161.4"/>
<path stroke="#008080" d="M350.0 1162.3 L352.5 1162.1 L355.0 1161.7 L357.5 1161.2 L360.0 1160.6 L362.5 1159.9 L365.0 1159.1 L367.5 1158.0 L370.0 1156.7 L372.5 1155.2 L375.0 1153.4 L377.5 1151.4 L380.0 1149.0 L382.5 1146.2 L385.0 1143.1 L387.5 1139.6 L390.0 1135.8 L392.5 1131.5 L395.0 1126.8 L397.5 1121.7 L400.0 1116.3 L402.5 1110.4 L405.0 1104.3 L407.5 1097.8 L410.0 1091.1 L412.5 1084.1 L415.0 1077.0 L417.5 1069.8 L420.0 1062.5 L422.5 1055.2 L425.0 1048.0 L427.5 1041.0 L430.0 1034.1 L432.5 1027.5 L435.0 1021.2 L437.5 1015.2 L440.0 1009.6 L442.5 1004.5 L445.0 999.8 L447.5 995.7 L450.0 992.0 L452.5 988.9 L455.0 986.3 L457.5 984.2 L460.0 982.7 L462.5 981.6 L465.0 981.1 L467.5 981.1 L470.0 981.6 L472.5 982.4 L475.0 983.8 L477.5 985.5 L480.0 987.5 L482.5 990.0 L485.0 992.7 L487.5 995.7 L490.0 999.0 L492.5 1002.5 L495.0 1006.2 L497.5 1010.1 L500.0 1014.1 L502.5 1018.3 L505.0 1022.5 L507.5 1026.9 L510.0 1031.3 L512.5 1035.7 L515.0 1040.1 L517.5 1044.5 L520.0 1048.9 L522.5 1053.2 L525.0 1057.4 L527.5 1061.6 L530.0 1065.6 L532.5 1069.6 L535.0 1073.3 L537.5 1077.0 L540.0 1080.4 L542.5 1083.6 L545.0 1086.7 L547.5 1089.5 L550.0 1092.1 L552.5 1094.5 L555.0 1096.6 L557.5 1098.4 L560.0 1100.0 L562.5 1101.3 L565.0 1102.4 L567.5 1103.1 L570.0 1103.6 L572.5 1103.8 L575.0 1103.6 L577.5 1103.2 L580.0 1102.5 L582.5 1101.4 L585.0 1100.1 L587.5 1098.5 L590.0 1096.5 L592.5 1094.2 L595.0 1091.7 L597.5 1088.8 L600.0 1085.6 L602.5 1082.1 L605.0 1078.4 L607.5 1074.3 L610.0 1069.9 L612.5 1065.2 L615.0 1060.2 L617.5 1054.9 L620.0 1049.3 L622.5 1043.4 L625.0 1037.3 L627.5 1030.8 L630.0 1024.0 L632.5 1017.0 L635.0 1009.7 L637.5 1002.0 L640.0 994.2 L642.5 986.0 L645.0 977.5 L647.5 968.8 L650.0 959.8 L652.5 950.6 L655.0 941.1 L657.5 931.3 L660.0 921.3 L662.5 911.1 L665.0 900.7 L667.5 890.0 L670.0 879.1 L672.5 868.0 L675.0 856.7 L677.5 845.2 L680.0 833.5 L682.5 821.7 L685.0 809.7 L687.5 797.5 L690.0 785.3 L692.5 772.9 L695.0 760.4 L697.5 747.7 L700.0 735.1 L702.5 722.3 L705.0 709.5 L707.5 696.6 L710.0 683.7 L712.5 670.7 L715.0 657.8 L717.5 644.9 L720.0 631.9 L722.5 619.1 L725.0 606.2 L727.5 593.4 L730.0 580.7 L732.5 568.1 L735.0 555.6 L737.5 543.2 L740.0 530.9 L742.5 518.7 L745.0 506.7 L747.5 494.8 L750.0 483.1 L752.5 471.6 L755.0 460.3 L757.5 449.2 L760.0 438.4 L762.5 427.7 L765.0 417.3 L767.5 407.2 L770.0 397.3 L772.5 387.7 L775.0 378.4 L777.5 369.3 L780.0 360.6 L782.5 352.2 L785.0 344.1 L787.5 336.4 L790.0 328.9 L792.5 321.9 L795.0 315.2 L797.5 308.8 L800.0 302.9 L802.5 297.3 L805.0 292.1 L807.5 287.3 L810.0 282.9 L812.5 278.9 L815.0 275.3 L817.5 272.1 L820.0 269.4 L822.5 267.0 L825.0 265.1 L827.5 263.6 L830.0 262.6 L832.5 261.9 L835.0 261.7 L837.5 261.9 L840.0 262.5 L842.5 263.6 L845.0 265.0 L847.5 266.9 L850.0 269.2 L852.5 271.9 L855.0 275.0 L857.5 278.6 L860.0 282.5 L862.5 286.8 L865.0 291.4 L867.5 296.5 L870.0 301.9 L872.5 307.6 L875.0 313.7 L877.5 320.2 L880.0 326.9 L882.5 334.0 L885.0 341.4 L887.5 349.1 L890.0 357.0 L892.5 365.3 L895.0 373.8 L897.5 382.5 L900.0 391.5 L902.5 400.7 L905.0 410.1 L907.5 419.7 L910.0 429.5 L912.5 439.5 L915.0 449.6 L917.5 459.9 L920.0 470.3 L922.5 480.9 L925.0 491.5 L927.5 502.3 L930.0 513.1 L932.5 524.0 L935.0 535.0 L937.5 546.0 L940.0 557.1 L942.5 568.1 L945.0 579.3 L947.5 590.4 L950.0 601.5 L952.5 612.6 L955.0 623.7 L957.5 634.7 L960.0 645.7 L962.5 656.7 L965.0 667.6 L967.5 678.4 L970.0 689.2 L972.5 699.9 L975.0 710.4 L977.5 720.9 L980.0 731.3 L982.5 741.6 L985.0 751.8 L987.5 761.9 L990.0 771.8 L992.5 781.6 L995.0 791.3 L997.5 800.9 L1000.0 810.3 L1002.5 819.6 L1005.0 828.7 L1007.5 837.7 L1010.0 846.5 L1012.5 855.2 L1015.0 863.7 L1017.5 872.1 L1020.0 880.3 L1022.5 888.4 L1025.0 896.3 L1027.5 904.0 L1030.0 911.6 L1032.5 919.1 L1035.0 926.3 L1037.5 933.4 L1040.0 940.4 L1042.5 947.2 L1045.0 953.9 L1047.5 960.3 L1050.0 966.7 L1052.5 972.9 L1055.0 978.9 L1057.5 984.8 L1060.0 990.5 L1062.5 996.1 L1065.0 1001.5 L1067.5 1006.8 L1070.0 1012.0 L1072.5 1017.0 L1075.0 1021.9 L1077.5 1026.6 L1080.0 1031.3 L1082.5 1035.8 L1085.0 1040.1 L1087.5 1044.3 L1090.0 1048.5 L1092.5 1052.4 L1095.0 1056.3 L1097.5 1060.1 L1100.0 1063.7 L1102.5 1067.2 L1105.0 1070.7 L1107.5 1074.0 L1110.0 1077.2 L1112.5 1080.3 L1115.0 1083.3 L1117.5 1086.2 L1120.0 1089.0 L1122.5 1091.8 L1125.0 1094.4 L1127.5 1097.0 L1130.0 1099.4 L1132.5 1101.8 L1135.0 1104.1 L1137.5 1106.3 L1140.0 1108.5 L1142.5 1110.6 L1145.0 1112.6 L1147.5 1114.5 L1150.0 1116.4 L1152.5 1118.2 L1155.0 1119.9 L1157.5 1121.6 L1160.0 1123.2 L1162.5 1124.8 L1165.0 1126.3 L1167.5 1127.7 L1170.0 1129.1 L1172.5 1130.5 L1175.0 1131.8 L1177.5 1133.0 L1180.0 1134.2 L1182.5 1135.4 L1185.0 1136.5 L1187.5 1137.6 L1190.0 1138.6 L1192.5 1139.6 L1195.0 1140.5 L1197.5 1141.5 L1200.0 1142.3 L1202.5 1143.2 L1205.0 1144.0 L1207.5 1144.8 L1210.0 1145.5 L1212.5 1146.3 L1215.0 1147.0 L1217.5 1147.6 L1220.0 1148.3 L1222.5 1148.9 L1225.0 1149.5 L1227.5 1150.1 L1230.0 1150.6 L1232.5 1151.1 L1235.0 1151.6 L1237.5 1152.1 L1240.0 1152.6 L1242.5 1153.0 L1245.0 1153.5 L1247.5 1153.9 L1250.0 1154.3 L1252.5 1154.6 L1255.0 1155.0 L1257.5 1155.4 L1260.0 1155.7 L1262.5 1156.0 L1265.0 1156.3 L1267.5 1156.6 L1270.0 1156.9 L1272.5 1157.2 L1275.0 1157.4 L1277.5 1157.7 L1280.0 1157.9 L1282.5 1158.1 L1285.0 1158.3 L1287.5 1158.6 L1290.0 1158.8 L1292.5 1158.9 L1295.0 1159.1 L1297.5 1159.3 L1300.0 1159.5 L1302.5 1159.6 L1305.0 1159.8 L1307.5 1159.9 L1310.0 1160.1 L1312.5 1160.2 L1315.0 1160.3 L1317.5 1160.5 L1320.0 1160.6 L1322.5 1160.7 L1325.0 1160.8 L1327.5 1160.9 L1330.0 1161.0 L1332.5 1161.1 L1335.0 1161.2 L1337.5 1161.3 L1340.0 1161.4 L1342.5 1161.5 L1345.0 1161.5 L1347.5 1161.6 L1350.0 1161.7 L1352.5 1161.7 L1355.0 1161.8 L1357.5 1161.9 L1360.0 1161.9 L1362.5 1162.0 L1365.0 1162.0 L1367.5 1162.1 L1370.0 1162.1 L1372.5 1162.2 L1375.0 1162.2 L1377.5 1162.3 L1380.0 1162.3 L1382.5 1162.4 L1385.0 1162.4 L1387.5 1162.4 L1390.0 1162.5 L1392.5 1162.5 L1395.0 1162.5 L1396.6 1162.5"/>
</g>
<g>
<text transform="translate(249.97 1172.40) scale(0.9837 1.040)" font-size="48.6">0.0</text>
<text transform="translate(153.82 1057.78) scale(1.0064 1.040)" font-size="48.6">5.0x10</text>
<text transform="translate(302.14 1031.97) scale(0.9754 1.040)" font-size="29.5" stroke="#000" stroke-width="0.5">3</text>
<text transform="translate(153.82 933.65) scale(1.0064 1.040)" font-size="48.6">1.0x10</text>
<text transform="translate(302.45 907.85) scale(0.9372 1.040)" font-size="29.5" stroke="#000" stroke-width="0.5">4</text>
<text transform="translate(153.82 809.52) scale(1.0064 1.040)" font-size="48.6">1.5x10</text>
<text transform="translate(302.45 783.73) scale(0.9372 1.040)" font-size="29.5" stroke="#000" stroke-width="0.5">4</text>
<text transform="translate(153.82 685.40) scale(1.0064 1.040)" font-size="48.6">2.0x10</text>
<text transform="translate(302.45 659.60) scale(0.9372 1.040)" font-size="29.5" stroke="#000" stroke-width="0.5">4</text>
<text transform="translate(153.82 561.27) scale(1.0064 1.040)" font-size="48.6">2.5x10</text>
<text transform="translate(302.45 535.48) scale(0.9372 1.040)" font-size="29.5" stroke="#000" stroke-width="0.5">4</text>
<text transform="translate(153.82 437.15) scale(1.0064 1.040)" font-size="48.6">3.0x10</text>
<text transform="translate(302.45 411.35) scale(0.9372 1.040)" font-size="29.5" stroke="#000" stroke-width="0.5">4</text>
<text transform="translate(153.82 313.02) scale(1.0064 1.040)" font-size="48.6">3.5x10</text>
<text transform="translate(302.45 287.23) scale(0.9372 1.040)" font-size="29.5" stroke="#000" stroke-width="0.5">4</text>
<text transform="translate(153.82 188.90) scale(1.0064 1.040)" font-size="48.6">4.0x10</text>
<text transform="translate(302.45 163.10) scale(0.9372 1.040)" font-size="29.5" stroke="#000" stroke-width="0.5">4</text>
<text transform="translate(307.72 1236.60) scale(1.0221 1.040)" font-size="48.6">200</text>
<text transform="translate(457.17 1236.60) scale(1.0221 1.040)" font-size="48.6">250</text>
<text transform="translate(607.64 1236.60) scale(1.0093 1.040)" font-size="48.6">300</text>
<text transform="translate(757.09 1236.60) scale(1.0093 1.040)" font-size="48.6">350</text>
<text transform="translate(907.04 1236.60) scale(1.0031 1.040)" font-size="48.6">400</text>
<text transform="translate(1056.50 1236.60) scale(1.0031 1.040)" font-size="48.6">450</text>
<text transform="translate(1204.96 1236.60) scale(1.0157 1.040)" font-size="48.6">500</text>
<text transform="translate(1354.41 1236.60) scale(1.0157 1.040)" font-size="48.6">550</text>
<text transform="translate(1503.36 1236.60) scale(1.0221 1.040)" font-size="48.6">600</text>
<text transform="translate(1652.81 1236.60) scale(1.0221 1.040)" font-size="48.6">650</text>
<text transform="translate(844.49 1319.80) scale(1.0160 1.000)" font-size="48.6">wavelength [nm]</text>
<text transform="translate(78.9 762.85) rotate(-90) scale(1.0024 1)" font-size="48.6">epsilon</text>
</g>
<rect x="1192.5" y="43.5" width="732" height="238" fill="#fff" stroke="#000" stroke-width="3" shape-rendering="crispEdges"/>
<g>
<rect x="1195" y="69.0" width="117" height="9" rx="2.5" fill="#000000"/>
<text transform="translate(1320.35 89.90) scale(1.0090 1.020)" font-size="48.6">2'-OH chalcone (from F)</text>
<rect x="1195" y="129.0" width="117" height="9" rx="2.5" fill="#ff0000"/>
<text transform="translate(1320.35 150.00) scale(1.0092 1.020)" font-size="48.6">2-OH chalcone (from 2'HF)</text>
<rect x="1195" y="189.0" width="117" height="9" rx="2.5" fill="#0000ff"/>
<text transform="translate(1320.84 209.90) scale(1.0083 1.020)" font-size="48.6">5'-OH chalcone (from 6 HF)</text>
<rect x="1195" y="249.0" width="117" height="9" rx="2.5" fill="#008080"/>
<text transform="translate(1321.82 270.20) scale(1.0066 1.020)" font-size="48.6">4'-OH chalcone (from 7 HF)</text>
</g>
</svg></body></html>
